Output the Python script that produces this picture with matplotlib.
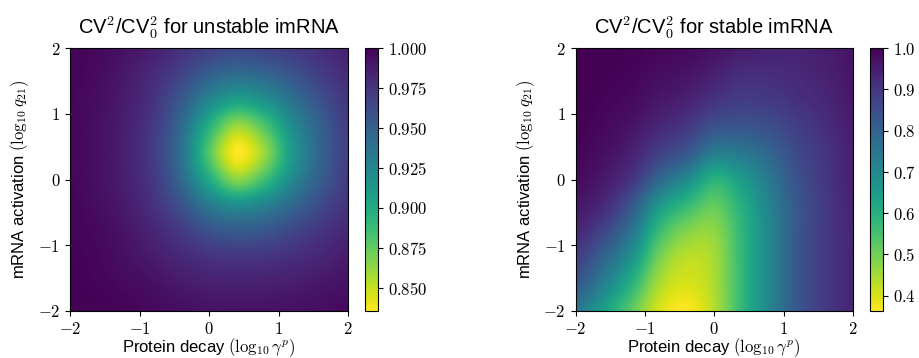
import numpy as np
import matplotlib
matplotlib.use('Agg')
import matplotlib.pyplot as plt
from matplotlib.ticker import FormatStrFormatter

plt.rcParams['font.family'] = ['Liberation Sans', 'DejaVu Sans']
plt.rcParams['mathtext.fontset'] = 'cm'

# grid of log10 values every 0.4 (columns = protein decay, rows = mRNA activation)
log_gamma_p = [-2.0, -1.6, -1.2, -0.8, -0.4, 0.0, 0.4, 0.8, 1.2, 1.6, 2.0]
log_q21 = [-2.0, -1.6, -1.2, -0.8, -0.4, 0.0, 0.4, 0.8, 1.2, 1.6, 2.0]

# CV^2/CV_0^2 for unstable imRNA (rows from q21 = -2 up to 2)
cv_ratio_unstable = [
    [0.999, 0.999, 0.998, 0.996, 0.994, 0.992, 0.992, 0.992, 0.993, 0.994, 0.996],
    [0.999, 0.998, 0.996, 0.993, 0.989, 0.986, 0.985, 0.986, 0.987, 0.990, 0.992],
    [0.999, 0.997, 0.993, 0.988, 0.982, 0.977, 0.975, 0.976, 0.979, 0.983, 0.988],
    [0.998, 0.996, 0.991, 0.983, 0.973, 0.960, 0.954, 0.957, 0.966, 0.975, 0.982],
    [0.998, 0.994, 0.988, 0.977, 0.959, 0.934, 0.921, 0.929, 0.945, 0.963, 0.976],
    [0.997, 0.993, 0.986, 0.973, 0.945, 0.901, 0.865, 0.886, 0.923, 0.951, 0.971],
    [0.997, 0.993, 0.985, 0.971, 0.939, 0.880, 0.836, 0.861, 0.911, 0.946, 0.969],
    [0.997, 0.993, 0.986, 0.972, 0.944, 0.896, 0.859, 0.880, 0.920, 0.949, 0.970],
    [0.997, 0.994, 0.987, 0.976, 0.954, 0.925, 0.906, 0.916, 0.938, 0.958, 0.974],
    [0.998, 0.995, 0.989, 0.980, 0.967, 0.950, 0.941, 0.946, 0.957, 0.970, 0.979],
    [0.998, 0.996, 0.992, 0.986, 0.977, 0.969, 0.964, 0.967, 0.972, 0.978, 0.985],
]

# CV^2/CV_0^2 for stable imRNA
cv_ratio_stable = [
    [0.745, 0.643, 0.522, 0.401, 0.363, 0.439, 0.580, 0.713, 0.828, 0.892, 0.936],
    [0.822, 0.720, 0.592, 0.443, 0.400, 0.445, 0.580, 0.713, 0.828, 0.892, 0.936],
    [0.879, 0.792, 0.672, 0.495, 0.427, 0.452, 0.580, 0.713, 0.828, 0.892, 0.936],
    [0.930, 0.864, 0.752, 0.566, 0.481, 0.471, 0.586, 0.713, 0.828, 0.892, 0.936],
    [0.962, 0.923, 0.828, 0.660, 0.572, 0.516, 0.605, 0.720, 0.828, 0.892, 0.939],
    [0.981, 0.955, 0.903, 0.790, 0.695, 0.592, 0.656, 0.748, 0.841, 0.898, 0.943],
    [0.992, 0.974, 0.942, 0.878, 0.825, 0.732, 0.745, 0.793, 0.860, 0.904, 0.946],
    [0.997, 0.985, 0.966, 0.929, 0.895, 0.838, 0.832, 0.847, 0.885, 0.917, 0.952],
    [1.000, 0.992, 0.982, 0.960, 0.940, 0.904, 0.885, 0.892, 0.911, 0.930, 0.959],
    [1.000, 0.996, 0.991, 0.978, 0.966, 0.943, 0.917, 0.917, 0.927, 0.943, 0.962],
    [1.000, 1.000, 0.996, 0.990, 0.983, 0.968, 0.952, 0.939, 0.939, 0.949, 0.968],
]

titles = [r'CV$^2$/CV$_0^2$ for unstable imRNA', r'CV$^2$/CV$_0^2$ for stable imRNA']
color_limits = [(0.8355, 1.0), (0.363, 1.0)]
cbar_ticks = [np.arange(0.85, 1.001, 0.025), np.arange(0.4, 1.001, 0.1)]
cbar_formats = ['$%.3f$', '$%.1f$']

fig = plt.figure(figsize=(9.19, 3.58), dpi=100)
ax_boxes = [[0.0762, 0.1313, 0.3025, 0.7346], [0.6264, 0.1313, 0.3017, 0.7346]]
cax_boxes = [[0.3972, 0.1313, 0.0141, 0.7346], [0.9467, 0.1313, 0.0145, 0.7346]]

hx = (log_gamma_p[1] - log_gamma_p[0]) / 2
hy = (log_q21[1] - log_q21[0]) / 2
extent = [log_gamma_p[0] - hx, log_gamma_p[-1] + hx, log_q21[0] - hy, log_q21[-1] + hy]

for i, values in enumerate([cv_ratio_unstable, cv_ratio_stable]):
    ax = fig.add_axes(ax_boxes[i])
    cax = fig.add_axes(cax_boxes[i])
    im = ax.imshow(np.array(values), origin='lower', extent=extent,
                   aspect='auto', interpolation='catrom', cmap='viridis_r',
                   vmin=color_limits[i][0], vmax=color_limits[i][1])
    ax.set_xlim(-2, 2)
    ax.set_ylim(-2, 2)
    ax.set_xticks([-2, -1, 0, 1, 2])
    ax.set_yticks([-2, -1, 0, 1, 2])
    ax.xaxis.set_major_formatter(FormatStrFormatter('$%g$'))
    ax.yaxis.set_major_formatter(FormatStrFormatter('$%g$'))
    ax.tick_params(labelsize=12)
    ax.set_xlabel(r'Protein decay $(\log_{10}\gamma^p)$', fontsize=12, labelpad=0)
    ax.set_ylabel(r'mRNA activation $(\log_{10}q_{21})$', fontsize=12, labelpad=5)
    ax.set_title(titles[i], fontsize=14.5, pad=10)

    cb = fig.colorbar(im, cax=cax)
    cb.set_ticks(cbar_ticks[i])
    cb.ax.yaxis.set_major_formatter(FormatStrFormatter(cbar_formats[i]))
    cb.ax.tick_params(labelsize=12)

fig.savefig('out.png', dpi=100)
